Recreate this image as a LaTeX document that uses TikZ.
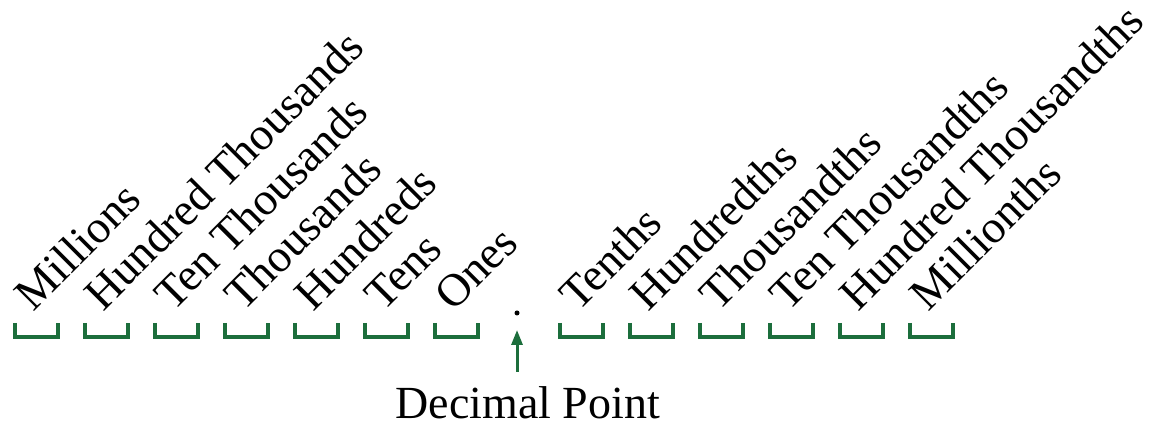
\documentclass[tikz,border=0pt]{standalone}
\usepackage{fontspec}
\setmainfont{Liberation Serif}
\usetikzlibrary{arrows.meta}
\definecolor{verdecasa}{RGB}{28,110,60}
\tikzset{
  casa/.style={draw=verdecasa, line width=3.2pt},
  rotulo/.style={rotate=45, anchor=base west, inner sep=0pt, font=\fontsize{46}{55}\selectfont},
}
\begin{document}
\begin{tikzpicture}[x=70pt,y=70pt]
\useasboundingbox (0,0) rectangle (16.443,6.014);

% Casas da parte inteira
\draw[casa] (0.214,1.4) -- ++(0,-0.2) -- ++(0.614,0) -- ++(0,0.2);
\draw[casa] (1.214,1.4) -- ++(0,-0.2) -- ++(0.614,0) -- ++(0,0.2);
\draw[casa] (2.214,1.4) -- ++(0,-0.2) -- ++(0.614,0) -- ++(0,0.2);
\draw[casa] (3.214,1.4) -- ++(0,-0.2) -- ++(0.614,0) -- ++(0,0.2);
\draw[casa] (4.214,1.4) -- ++(0,-0.2) -- ++(0.614,0) -- ++(0,0.2);
\draw[casa] (5.214,1.4) -- ++(0,-0.2) -- ++(0.614,0) -- ++(0,0.2);
\draw[casa] (6.214,1.4) -- ++(0,-0.2) -- ++(0.614,0) -- ++(0,0.2);

% Casas da parte decimal
\draw[casa] (8,1.4) -- ++(0,-0.2) -- ++(0.614,0) -- ++(0,0.2);
\draw[casa] (9,1.4) -- ++(0,-0.2) -- ++(0.614,0) -- ++(0,0.2);
\draw[casa] (10,1.4) -- ++(0,-0.2) -- ++(0.614,0) -- ++(0,0.2);
\draw[casa] (11,1.4) -- ++(0,-0.2) -- ++(0.614,0) -- ++(0,0.2);
\draw[casa] (12,1.4) -- ++(0,-0.2) -- ++(0.614,0) -- ++(0,0.2);
\draw[casa] (13,1.4) -- ++(0,-0.2) -- ++(0.614,0) -- ++(0,0.2);

% Rotulos da parte inteira
\node[rotulo] (milhoes) at (0.471,1.55) {Millions};
\node[rotulo] (cmilhares) at (1.471,1.55) {Hundred Thousands};
\node[rotulo] (dmilhares) at (2.471,1.55) {Ten Thousands};
\node[rotulo] (milhares) at (3.471,1.55) {Thousands};
\node[rotulo] (centenas) at (4.471,1.55) {Hundreds};
\node[rotulo] (dezenas) at (5.471,1.55) {Tens};
\node[rotulo] (unidades) at (6.471,1.55) {Ones};

% Rotulos da parte decimal
\node[rotulo] (decimos) at (8.257,1.55) {Tenths};
\node[rotulo] (centesimos) at (9.257,1.55) {Hundredths};
\node[rotulo] (milesimos) at (10.257,1.55) {Thousandths};
\node[rotulo] (dmilesimos) at (11.257,1.55) {Ten Thousandths};
\node[rotulo] (cmilesimos) at (12.257,1.55) {Hundred Thousandths};
\node[rotulo] (milionesimos) at (13.257,1.55) {Millionths};

% Ponto decimal
\node[circle, fill, inner sep=0pt, minimum size=5pt] (ponto) at (7.386,1.543) {};
\node[anchor=base, inner sep=0pt, font=\fontsize{46}{55}\selectfont] (nome) at (7.54,0.04) {Decimal Point};
\coordinate (base) at (7.386,0.7);
\draw[verdecasa, line width=3pt, -{Triangle[length=15pt,width=11pt]}] (base) -- ([yshift=-17pt]ponto.center);

\end{tikzpicture}
\end{document}
